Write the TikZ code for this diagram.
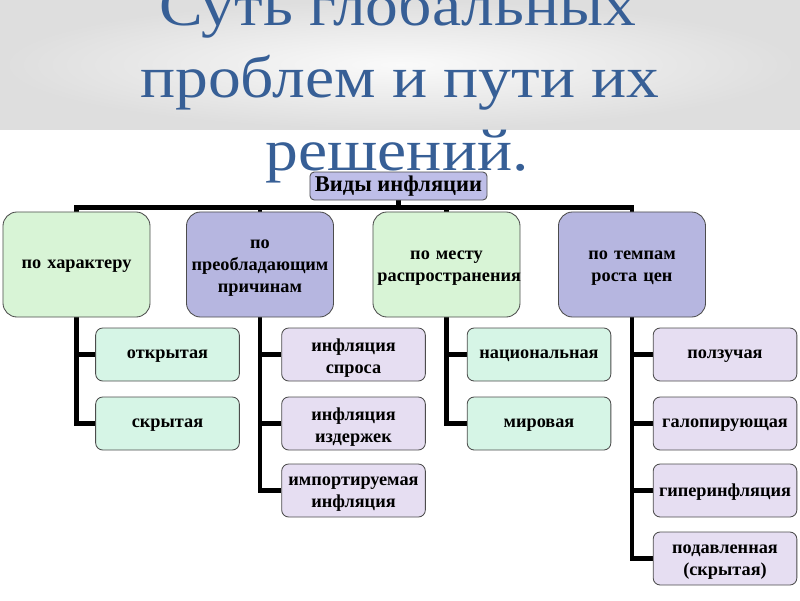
\documentclass[tikz,border=0pt]{standalone}
\usepackage{fontspec}
\usepackage{graphicx}
\setmainfont{Liberation Serif}
\usetikzlibrary{backgrounds}
\definecolor{titleblue}{RGB}{55,95,150}
\definecolor{catgreen}{RGB}{216,244,214}
\definecolor{catviolet}{RGB}{182,182,224}
\definecolor{kidgreen}{RGB}{214,245,230}
\definecolor{kidviolet}{RGB}{230,222,242}
\definecolor{rootviolet}{RGB}{190,190,232}
\newcommand{\wide}[1]{\scalebox{1.11}[1]{#1}}
\begin{document}
\begin{tikzpicture}[x=0.025cm,y=-0.025cm,
    conn/.style={line width=3.5pt},
    box/.style={draw=black!70, line width=0.6pt, align=center, inner sep=2pt,
      font=\fontsize{13}{15.5}\selectfont\bfseries},
    catbox/.style={box, rounded corners=10pt, minimum width=3.675cm,
      minimum height=2.625cm, text width=3.45cm,
      execute at end node={\vspace*{-5pt}}},
    kidbox/.style={box, rounded corners=5pt, minimum width=3.575cm,
      minimum height=1.325cm, text width=3.45cm,
      execute at end node={\vspace*{-5pt}}},
    headline/.style={anchor=base, text=titleblue, font=\fontsize{42}{42}\selectfont}]
    \useasboundingbox (0,0) rectangle (800,600);
    \clip (0,0) rectangle (800,600);
    % header band and title
    \shade[inner color=gray!4, outer color=gray!26] (0,0) rectangle (800,129);
    \node[headline] (t1) at (398,25) {\wide{Суть глобальных}};
    \node[headline] (t2) at (400,97) {\wide{проблем и пути их}};
    \node[headline] (t3) at (397,170) {\wide{решений.}};
    % root and categories
    \node[box, fill=rootviolet, rounded corners=3pt, minimum width=4.425cm,
      minimum height=0.7cm, font=\fontsize{16}{18}\selectfont\bfseries] (root) at (398.5,186) {Виды инфляции};
    \node[catbox, fill=catgreen] (c1) at (76.5,264.5) {по характеру};
    \node[catbox, fill=catviolet] (c2) at (260,264.5) {по\\преобладающим\\причинам};
    \node[catbox, fill=catgreen] (c3) at (446.5,264.5) {по месту\\распространения};
    \node[catbox, fill=catviolet] (c4) at (632,264.5) {по темпам\\роста цен};
    % children
    \node[kidbox, fill=kidgreen] (k11) at (167.5,354.5) {открытая};
    \node[kidbox, fill=kidgreen] (k12) at (167.5,423.5) {скрытая};
    \node[kidbox, fill=kidviolet] (k21) at (353.5,354.5) {инфляция\\спроса};
    \node[kidbox, fill=kidviolet] (k22) at (353.5,423.5) {инфляция\\издержек};
    \node[kidbox, fill=kidviolet] (k23) at (353.5,490.5) {импортируемая\\инфляция};
    \node[kidbox, fill=kidgreen] (k31) at (539,354.5) {национальная};
    \node[kidbox, fill=kidgreen] (k32) at (539,423.5) {мировая};
    \node[kidbox, fill=kidviolet] (k41) at (725,354.5) {ползучая};
    \node[kidbox, fill=kidviolet] (k42) at (725,423.5) {галопирующая};
    \node[kidbox, fill=kidviolet] (k43) at (725,490.5) {гиперинфляция};
    \node[kidbox, fill=kidviolet] (k44) at (725,558.5) {подавленная\\(скрытая)};
    % connectors
    \begin{scope}[on background layer]
    \foreach \c in {c1,c2,c3,c4}
      \draw[conn] (root.south) -- ++(0,7) -| (\c.north);
    \foreach \k in {k11,k12}
      \draw[conn] (c1.south) |- (\k.west);
    \foreach \k in {k21,k22,k23}
      \draw[conn] (c2.south) |- (\k.west);
    \foreach \k in {k31,k32}
      \draw[conn] (c3.south) |- (\k.west);
    \foreach \k in {k41,k42,k43,k44}
      \draw[conn] (c4.south) |- (\k.west);
    \end{scope}
  \end{tikzpicture}
\end{document}
